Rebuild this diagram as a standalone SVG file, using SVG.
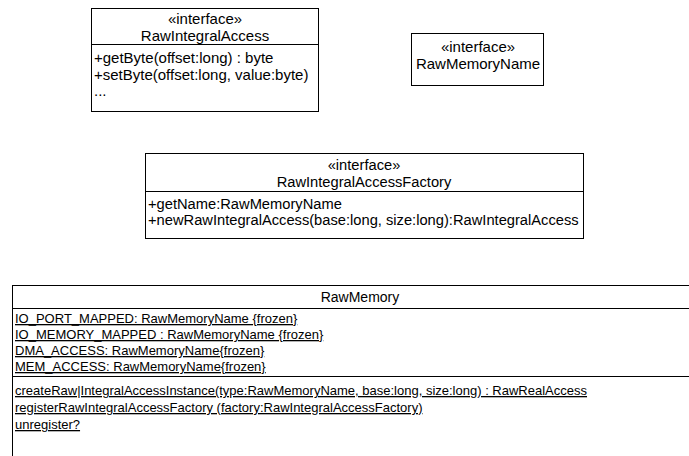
<svg xmlns="http://www.w3.org/2000/svg" width="689" height="456" viewBox="0 0 689 456">
  <style>
    .box { fill: #ffffff; stroke: #000000; stroke-width: 1; }
    .sep { stroke: #000000; stroke-width: 1; }
    text { font-family: "Liberation Sans", Arial, sans-serif; font-size: 13px; fill: #000000; }
    .big { font-size: 15px; }
    .mid { font-size: 14.7px; }
    .c { text-anchor: middle; }
    .u { text-decoration: underline; }
  </style>
  <rect width="689" height="456" fill="#ffffff"/>

  <g id="RawIntegralAccess">
    <rect class="box" x="91.5" y="8.5" width="227" height="103"/>
    <line class="sep" x1="91.5" y1="44.5" x2="318.5" y2="44.5"/>
    <text class="c big" x="205" y="24">«interface»</text>
    <text class="c big" x="205" y="41">RawIntegralAccess</text>
    <text class="big" x="94" y="63">+getByte(offset:long) : byte</text>
    <text class="big" x="94" y="80">+setByte(offset:long, value:byte)</text>
    <text class="big" x="94" y="96">...</text>
  </g>

  <g id="RawMemoryName">
    <rect class="box" x="411.5" y="33.5" width="132" height="52"/>
    <text class="c big" x="478" y="52">«interface»</text>
    <text class="c big" x="478" y="69">RawMemoryName</text>
  </g>

  <g id="RawIntegralAccessFactory">
    <rect class="box" x="145.5" y="153.5" width="438" height="85"/>
    <line class="sep" x1="145.5" y1="191.5" x2="583.5" y2="191.5"/>
    <text class="c mid" x="364" y="170">«interface»</text>
    <text class="c mid" x="364" y="187">RawIntegralAccessFactory</text>
    <text class="mid" x="148" y="209">+getName:RawMemoryName</text>
    <text class="mid" x="148" y="225">+newRawIntegralAccess(base:long, size:long):RawIntegralAccess</text>
  </g>

  <g id="RawMemory">
    <rect class="box" x="12.5" y="285.5" width="700" height="190"/>
    <line class="sep" x1="12.5" y1="308.5" x2="700" y2="308.5"/>
    <line class="sep" x1="12.5" y1="376.5" x2="700" y2="376.5"/>
    <text class="c" x="360" y="302" style="font-size:14px">RawMemory</text>
    <text class="u" x="15" y="323">IO_PORT_MAPPED: RawMemoryName {frozen}</text>
    <text class="u" x="15" y="339">IO_MEMORY_MAPPED  : RawMemoryName {frozen}</text>
    <text class="u" x="15" y="355">DMA_ACCESS: RawMemoryName{frozen}</text>
    <text class="u" x="15" y="371">MEM_ACCESS: RawMemoryName{frozen}</text>
    <text class="u" x="15" y="395">createRaw|IntegralAccessInstance(type:RawMemoryName, base:long, size:long) : RawRealAccess</text>
    <text class="u" x="15" y="412">registerRawIntegralAccessFactory  (factory:RawIntegralAccessFactory)</text>
    <text class="u" x="15" y="429">unregister?</text>
  </g>

  <g id="connectors"></g>
</svg>
